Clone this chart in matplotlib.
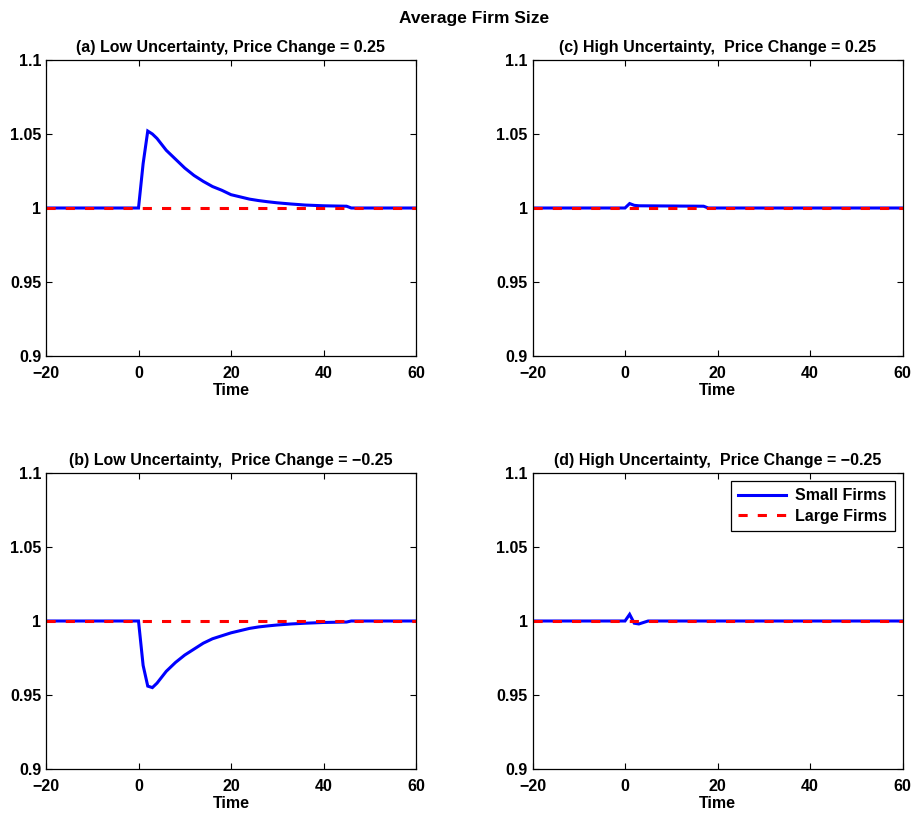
import matplotlib
matplotlib.use("Agg")
import matplotlib.pyplot as plt

plt.rcParams["font.family"] = ["Liberation Sans", "DejaVu Sans"]
plt.rcParams["font.weight"] = "bold"

# --------------------------------------------------
# Data
# --------------------------------------------------
t_a = [-20, 0, 1, 2, 3, 4, 5, 6, 8, 10, 12, 14, 16, 18, 20, 22, 24, 26,
       28, 30, 33, 36, 40, 45, 46, 60]
small_a = [1.0, 1.0, 1.030, 1.052, 1.050, 1.047, 1.043, 1.039, 1.033,
           1.027, 1.022, 1.018, 1.0145, 1.012, 1.009, 1.0075, 1.006,
           1.005, 1.0042, 1.0035, 1.0027, 1.002, 1.0015, 1.0012, 1.0, 1.0]

t_b = [-20, 0, 1, 2, 3, 4, 5, 6, 8, 10, 12, 14, 16, 18, 20, 22, 24, 26,
       28, 30, 33, 36, 40, 45, 46, 60]
small_b = [1.0, 1.0, 0.970, 0.956, 0.955, 0.958, 0.962, 0.966, 0.972,
           0.977, 0.981, 0.985, 0.988, 0.990, 0.992, 0.9935, 0.995,
           0.996, 0.9967, 0.9973, 0.998, 0.9985, 0.999, 0.9993, 1.0, 1.0]

t_c = [-20, 0, 1, 2, 3, 17, 18, 60]
small_c = [1.0, 1.0, 1.003, 1.0018, 1.0015, 1.0012, 1.0, 1.0]

t_d = [-20, 0, 1, 2, 3, 4, 5, 60]
small_d = [1.0, 1.0, 1.0045, 0.9985, 0.998, 0.999, 1.0, 1.0]

t_large = [-20, 60]
large = [1.0, 1.0]

titles = [
    "(a) Low Uncertainty, Price Change = 0.25",
    "(c) High Uncertainty,  Price Change = 0.25",
    "(b) Low Uncertainty,  Price Change = \u22120.25",
    "(d) High Uncertainty,  Price Change = \u22120.25",
]
x_ticks = [-20, 0, 20, 40, 60]
x_ticklabels = ["\u221220", "0", "20", "40", "60"]
y_ticks = [0.9, 0.95, 1.0, 1.05, 1.1]
y_ticklabels = ["0.9", "0.95", "1", "1.05", "1.1"]

panels = [(t_a, small_a), (t_c, small_c), (t_b, small_b), (t_d, small_d)]

# --------------------------------------------------
# Plot
# --------------------------------------------------
fig = plt.figure(figsize=(9.15, 8.15), dpi=100)

W, H = 915.0, 815.0
ax_w = 370 / W
ax_h = 296 / H
lefts = [46 / W, 532.5 / W]
bottoms = [1 - 356 / H, 1 - 769 / H]
positions = [
    (lefts[0], bottoms[0]),
    (lefts[1], bottoms[0]),
    (lefts[0], bottoms[1]),
    (lefts[1], bottoms[1]),
]

for k, ((t, s), (l, b)) in enumerate(zip(panels, positions)):
    ax = fig.add_axes([l, b, ax_w, ax_h])
    ax.plot(t, s, color="#0000ff", linewidth=2.2, label="Small Firms",
            solid_joinstyle="miter")
    ax.plot(t_large, large, color="#ff0000", linewidth=2.2,
            linestyle=(0, (3, 3.3)), label="Large Firms")

    ax.set_xlim(-20, 60)
    ax.set_ylim(0.9, 1.1)
    ax.set_xticks(x_ticks)
    ax.set_xticklabels(x_ticklabels)
    ax.set_yticks(y_ticks)
    ax.set_yticklabels(y_ticklabels)
    ax.tick_params(direction="in", top=True, right=True, length=4,
                   width=0.8, labelsize=11.5)
    ax.tick_params(axis="x", pad=7)
    ax.tick_params(axis="y", pad=3.5)
    for lab in ax.get_xticklabels() + ax.get_yticklabels():
        lab.set_fontweight("bold")
    for sp in ax.spines.values():
        sp.set_linewidth(0.9)

    ax.set_xlabel("Time", fontsize=11.5, fontweight="bold", labelpad=1.5)
    ax.set_title(titles[k], fontsize=11.5, fontweight="bold", pad=6)

    if k == 3:
        leg = ax.legend(loc="upper right", fontsize=11.5, handlelength=3.0,
                        fancybox=False, framealpha=1, edgecolor="black",
                        borderaxespad=0.5, borderpad=0.45,
                        labelspacing=0.35, handletextpad=0.6)
        leg.get_frame().set_linewidth(0.9)
        for txt in leg.get_texts():
            txt.set_fontweight("bold")

fig.text(474 / W, 1 - 18 / H, "Average Firm Size", ha="center",
         va="center", fontsize=12.5, fontweight="bold")

fig.savefig("out.png", dpi=100, facecolor="white")
